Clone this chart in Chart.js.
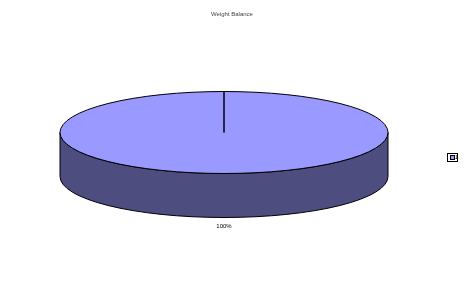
<!DOCTYPE html>
<html>
<head>
<meta charset="utf-8">
<script src="https://cdn.jsdelivr.net/npm/chart.js@4/dist/chart.umd.min.js"></script>
<style>
  html, body { margin: 0; padding: 0; background: #fff; }
  #wrap { width: 466px; height: 290px; }
</style>
</head>
<body>
<div id="wrap"><canvas id="pieChart"></canvas></div>
<script>
const categories = ['1'];
const weights = [100];
const chartTitle = 'Weight Balance';

const topColor = '#9999FF';
const sideColor = '#4D4D80';

// fake 3D pie: library computes the arcs, we draw them as a tilted disc
const tilted = {
    id: 'tilted',
    beforeDatasetsDraw(chart) {
        const ctx = chart.ctx;
        const meta = chart.getDatasetMeta(0);
        const total = weights.reduce((a, b) => a + b, 0);
        ctx.save();
        ctx.lineWidth = 1;
        ctx.strokeStyle = '#000';
        meta.data.forEach((arc, i) => {
            const p = arc.getProps(['x', 'y', 'startAngle', 'endAngle', 'outerRadius'], true);
            const rx = p.outerRadius * 2;
            const ry = p.outerRadius * 0.5;
            const depth = 44;
            // side wall, front half only
            const a1 = Math.max(p.startAngle, 0);
            const a2 = Math.min(p.endAngle, Math.PI);
            if (a2 > a1) {
                ctx.beginPath();
                ctx.ellipse(p.x, p.y, rx, ry, 0, a1, a2);
                ctx.lineTo(p.x + rx * Math.cos(a2), p.y + ry * Math.sin(a2) + depth);
                ctx.ellipse(p.x, p.y + depth, rx, ry, 0, a2, a1, true);
                ctx.closePath();
                ctx.fillStyle = sideColor;
                ctx.fill();
                ctx.stroke();
            }
            // top face
            ctx.beginPath();
            ctx.moveTo(p.x, p.y);
            ctx.lineTo(p.x + rx * Math.cos(p.startAngle), p.y + ry * Math.sin(p.startAngle));
            ctx.ellipse(p.x, p.y, rx, ry, 0, p.startAngle, p.endAngle);
            ctx.closePath();
            ctx.fillStyle = topColor;
            ctx.fill();
            ctx.stroke();
            // percent label
            const mid = (p.startAngle + p.endAngle) / 2;
            const pct = Math.round(weights[i] / total * 100) + '%';
            ctx.fillStyle = '#000';
            ctx.font = '6px Arial, "Liberation Sans"';
            ctx.textAlign = 'center';
            ctx.textBaseline = 'middle';
            ctx.fillText(pct, p.x + (rx + 6) * Math.cos(mid), p.y + (ry + 6) * Math.sin(mid) + depth + 3);
        });
        ctx.restore();
        return false;
    },
    // title and small boxed legend, placed like the original
    afterDraw(chart) {
        const items = Chart.overrides.pie.plugins.legend.labels.generateLabels(chart);
        const ctx = chart.ctx;
        ctx.save();
        ctx.fillStyle = '#444';
        ctx.font = '6px Arial, "Liberation Sans"';
        ctx.textAlign = 'center';
        ctx.textBaseline = 'middle';
        ctx.fillText(chartTitle, 232, 14);

        ctx.lineWidth = 1;
        ctx.strokeStyle = '#000';
        ctx.font = '5px Arial, "Liberation Sans"';
        ctx.textAlign = 'left';
        const x0 = 447, y0 = 153;
        ctx.strokeRect(x0 + 0.5, y0 + 0.5, 10, 8 + (items.length - 1) * 7);
        items.forEach((it, k) => {
            const y = y0 + 2 + k * 7;
            ctx.fillStyle = it.fillStyle;
            ctx.fillRect(x0 + 3.5, y + 0.5, 4, 4);
            ctx.strokeRect(x0 + 3.5, y + 0.5, 4, 4);
            ctx.fillStyle = '#000';
            ctx.fillText(it.text, x0 + 8, y + 3);
        });
        ctx.restore();
    }
};

new Chart(document.getElementById('pieChart'), {
    type: 'pie',
    data: {
        labels: categories,
        datasets: [{
            data: weights,
            backgroundColor: topColor,
            borderColor: '#000',
            borderWidth: 1
        }]
    },
    options: {
        responsive: true,
        maintainAspectRatio: false,
        animation: false,
        radius: 82,
        layout: { padding: { left: 0, right: 18, top: 27, bottom: 52 } },
        plugins: {
            title: { display: false },
            legend: { display: false },
            tooltip: { enabled: false }
        }
    },
    plugins: [tilted]
});
</script>
</body>
</html>
